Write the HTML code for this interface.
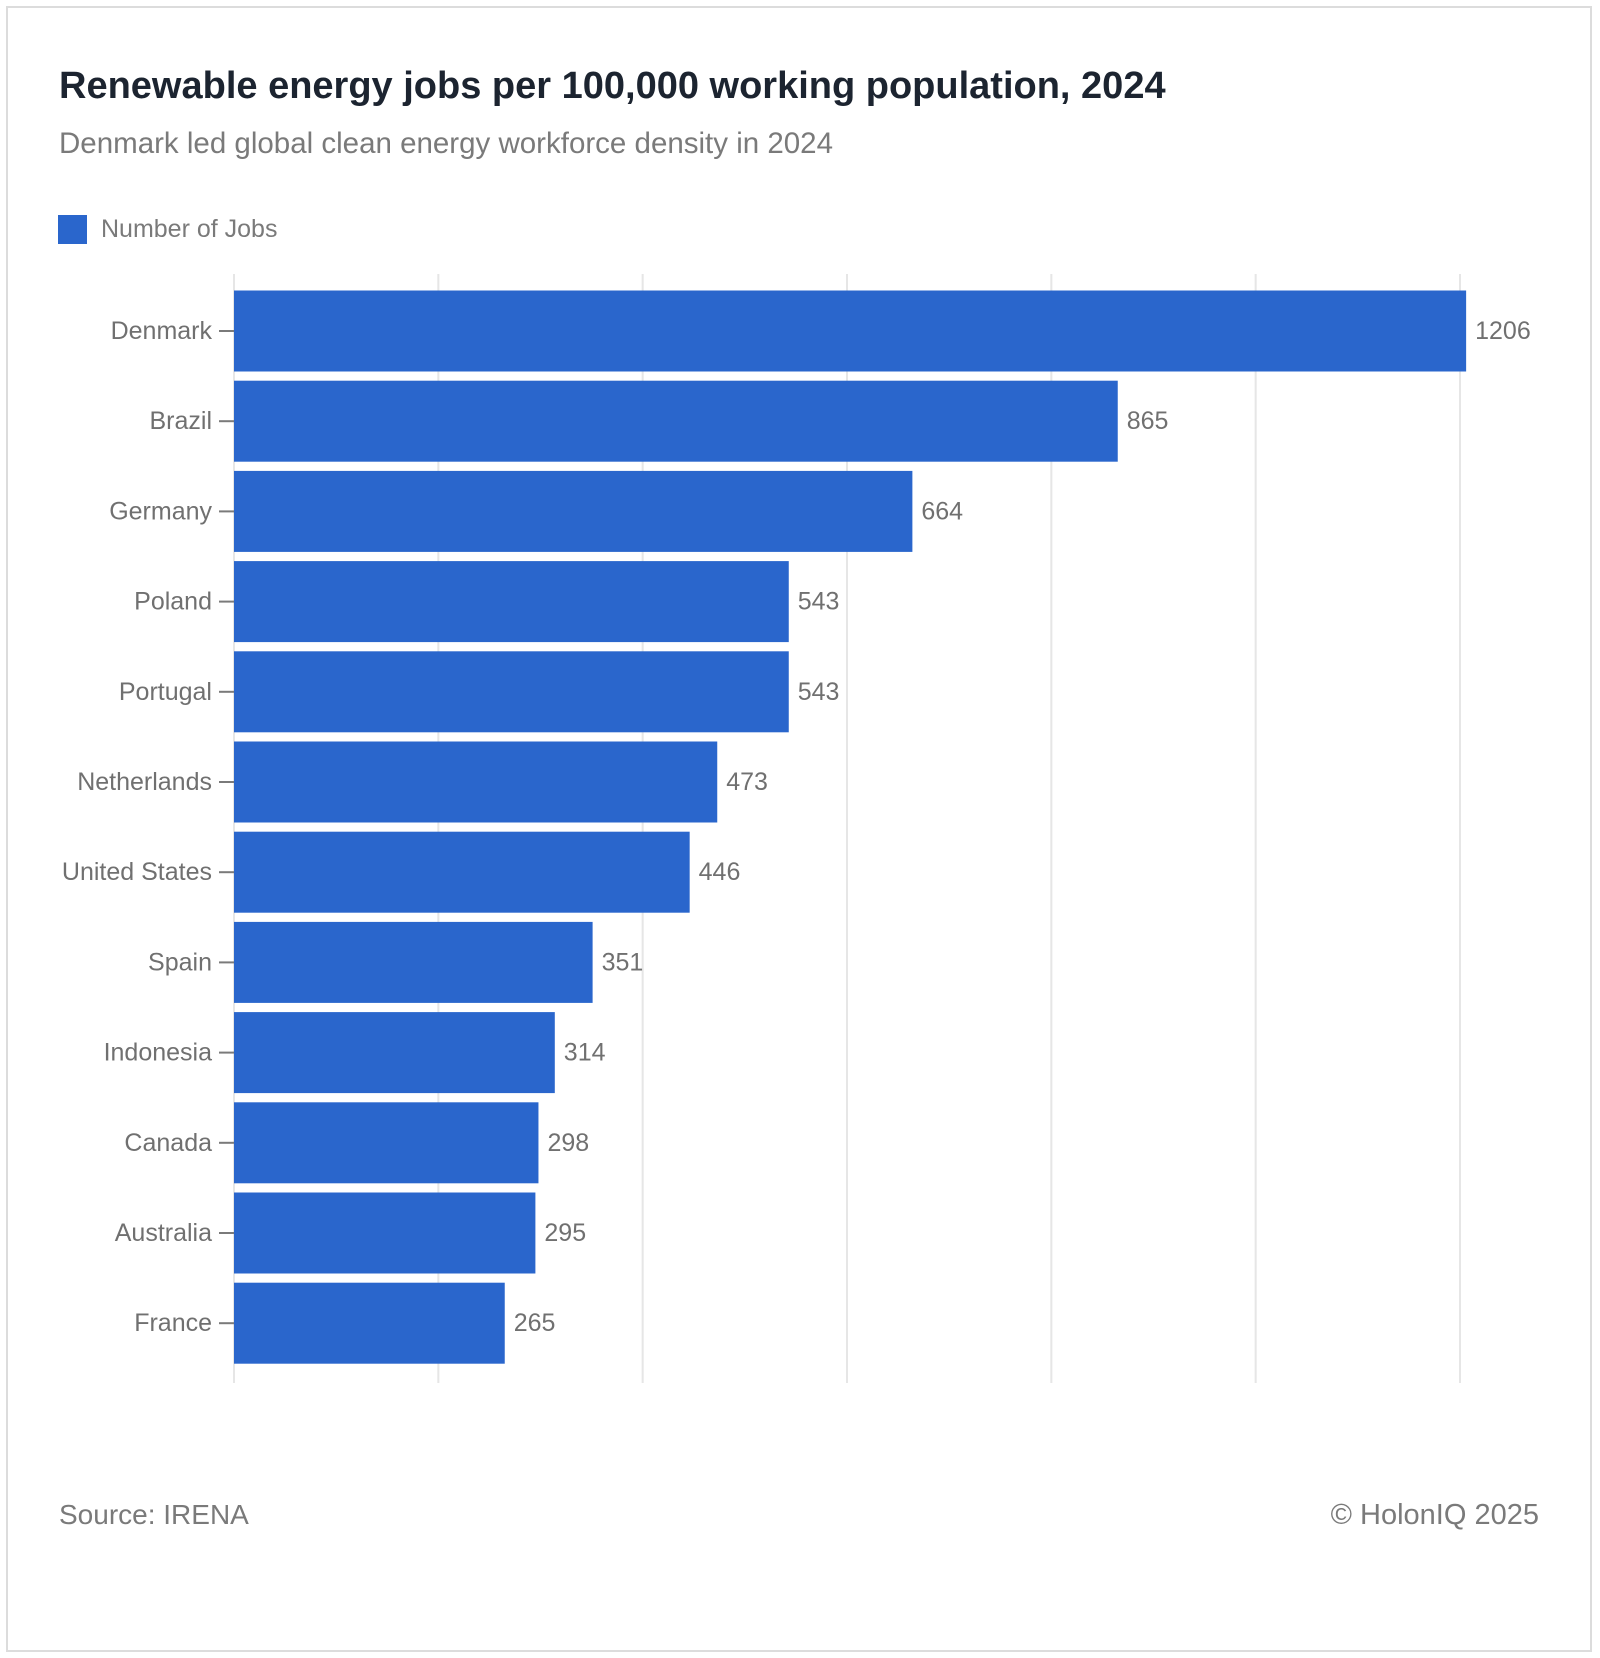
<!DOCTYPE html>
<html><head><meta charset="utf-8"><style>
html,body{margin:0;padding:0;background:#fff}
svg{display:block;font-family:"Liberation Sans",sans-serif}
</style></head><body>
<svg id="chart" width="1600" height="1658" viewBox="0 0 1600 1658">
<rect x="7" y="7" width="1584" height="1644" fill="#fff" stroke="#dcdcdc" stroke-width="2"/>
<text x="59" y="98" font-size="38" font-weight="bold" fill="#1c2430">Renewable energy jobs per 100,000 working population, 2024</text>
<text x="59" y="153" font-size="29.5" fill="#7a7a7a">Denmark led global clean energy workforce density in 2024</text>
<rect x="58" y="215" width="29" height="29" fill="#2a66cc"/>
<text x="101" y="237" font-size="25" fill="#7a7a7a">Number of Jobs</text>
<g id="grid"></g>
<g id="bars"></g>
<text x="59" y="1524" font-size="28" fill="#7a7a7a">Source: IRENA</text>
<text x="1539" y="1524" font-size="29" fill="#7a7a7a" text-anchor="end">© HolonIQ 2025</text>
</svg>
<script>
const categories = ["Denmark","Brazil","Germany","Poland","Portugal","Netherlands","United States","Spain","Indonesia","Canada","Australia","France"];
const jobs = [1206,865,664,543,543,473,446,351,314,298,295,265];
const xTicks = [0,200,400,600,800,1000,1200];

const NS = "http://www.w3.org/2000/svg";
const x0 = 234, pxPerUnit = 1226/1200;
const xScale = v => x0 + v*pxPerUnit;
const bandTop = 286, band = 90.2, barH = 81;
const yScale = i => bandTop + i*band;

const grid = document.getElementById('grid');
xTicks.forEach(t => {
  const l = document.createElementNS(NS,'line');
  l.setAttribute('x1', xScale(t)); l.setAttribute('x2', xScale(t));
  l.setAttribute('y1', 274); l.setAttribute('y2', 1383);
  l.setAttribute('stroke', '#e6e6e6'); l.setAttribute('stroke-width', '2');
  
  
  grid.appendChild(l);
});

const bars = document.getElementById('bars');
categories.forEach((c, i) => {
  const v = jobs[i];
  const y = yScale(i) + 4.5;
  const cy = y + barH/2;
  const r = document.createElementNS(NS,'rect');
  r.setAttribute('x', x0); r.setAttribute('y', y);
  r.setAttribute('width', xScale(v) - x0); r.setAttribute('height', barH);
  r.setAttribute('fill', '#2a66cc');
  
  
  bars.appendChild(r);
  const tk = document.createElementNS(NS,'line');
  tk.setAttribute('x1', 219); tk.setAttribute('x2', 234);
  tk.setAttribute('y1', cy); tk.setAttribute('y2', cy);
  tk.setAttribute('stroke', '#7a7a7a'); tk.setAttribute('stroke-width', '2');
  
  
  bars.appendChild(tk);
  const lb = document.createElementNS(NS,'text');
  lb.setAttribute('x', 212); lb.setAttribute('y', cy + 8);
  lb.setAttribute('text-anchor', 'end'); lb.setAttribute('font-size', '25');
  lb.setAttribute('fill', '#707070');
  lb.textContent = c;
  
  
  bars.appendChild(lb);
  const vl = document.createElementNS(NS,'text');
  vl.setAttribute('x', xScale(v) + 9); vl.setAttribute('y', cy + 8);
  vl.setAttribute('font-size', '25'); vl.setAttribute('fill', '#707070');
  vl.textContent = v;
  
  
  bars.appendChild(vl);
});
</script>
</body></html>
